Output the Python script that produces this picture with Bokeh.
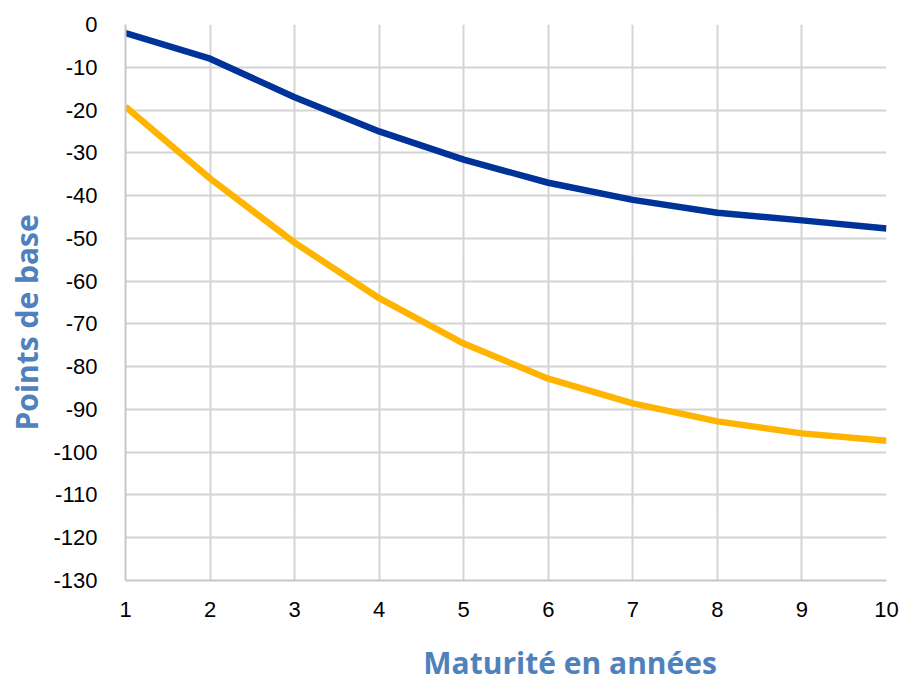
from bokeh.plotting import figure
from bokeh.layouts import column
from bokeh.models import Range1d, FixedTicker, Title
from bokeh.core.properties import value
from bokeh.embed import file_html
from bokeh.resources import INLINE

# Maturities (years) and yield impact in basis points
maturities = [1, 2, 3, 4, 5, 6, 7, 8, 9, 10]
series_blue = [-2, -8, -17, -25, -31.6, -37, -41, -44, -45.8, -47.7]
series_orange = [-19.2, -36, -51, -64, -74.6, -82.8, -88.6, -92.8, -95.6, -97.3]
y_ticks = list(range(-130, 1, 10))
x_title = "Maturité en années"
y_title = "Points de base"

TITLE_COLOR = "#4F81BD"

p = figure(width=902, height=630, output_backend="svg", toolbar_location=None,
           x_range=Range1d(1, 10), y_range=Range1d(-130, 0),
           min_border_left=125, min_border_right=16, min_border_top=24,
           min_border_bottom=50)
p.outline_line_color = None
p.background_fill_color = "white"
p.border_fill_color = "white"

p.line(maturities, series_blue, line_color="#003399", line_width=6.5, line_join="round")
p.line(maturities, series_orange, line_color="#FFB400", line_width=6.5, line_join="round")

p.xaxis.ticker = FixedTicker(ticks=maturities)
p.yaxis.ticker = FixedTicker(ticks=y_ticks)
# plain hyphen for negative labels
p.yaxis.major_label_overrides = {t: ("-" + str(-t) if t < 0 else str(t)) for t in y_ticks}

for ax in (p.xaxis[0], p.yaxis[0]):
    ax.axis_line_color = "#c8c8c8"
    ax.axis_line_width = 2
    ax.major_tick_line_color = None
    ax.minor_tick_line_color = None
    ax.major_label_text_font = "Liberation Sans"
    ax.major_label_text_font_size = "22px"
    ax.major_label_text_color = "black"

p.xaxis.major_label_standoff = 15
p.yaxis.major_label_standoff = 22

for g in (p.xgrid[0], p.ygrid[0]):
    g.grid_line_color = "#d4d4d4"
    g.grid_line_width = 2

p.add_layout(Title(text=y_title, align="left", offset=150, standoff=7,
                   text_font="Open Sans", text_font_style="bold",
                   text_font_size="30px", text_color=TITLE_COLOR), "left")

# strip under the chart carrying the x-axis title
strip = figure(width=902, height=54, output_backend="svg", toolbar_location=None,
               x_range=Range1d(0, 902), y_range=Range1d(0, 54),
               min_border=0, x_axis_type=None, y_axis_type=None)
strip.outline_line_color = None
strip.grid.visible = False
strip.text(x=[527], y=[22], text=[x_title], text_font=value("Open Sans"),
           text_font_style="bold", text_font_size="30px", text_color=TITLE_COLOR,
           text_align="center", text_baseline="middle")

layout = column(p, strip, spacing=0)
open("out.html", "w").write(file_html(layout, INLINE))
